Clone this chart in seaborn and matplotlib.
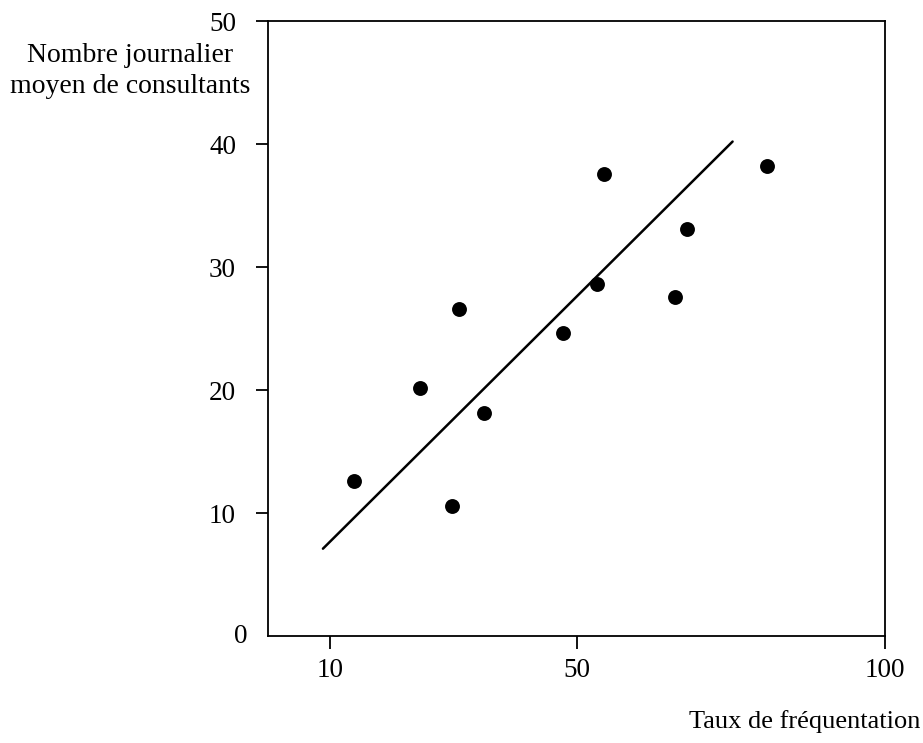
import matplotlib
matplotlib.use("Agg")
import matplotlib.pyplot as plt
import seaborn as sns
import pandas as pd

# Data
taux = [13.9, 24.6, 29.8, 30.9, 35.0, 47.8, 53.4, 54.4, 65.9, 67.9, 80.8]
consultants = [12.6, 20.2, 10.6, 26.6, 18.1, 24.6, 28.6, 37.6, 27.6, 33.1, 38.2]
line_x = [8.9, 75.3]
line_y = [7.1, 40.2]
x_ticks = [10, 50, 100]
y_ticks = [10, 20, 30, 40, 50]

sns.set_theme(style="ticks")
plt.rcParams['font.family'] = ['Liberation Serif', 'DejaVu Serif']
plt.rcParams['text.color'] = 'black'

fig = plt.figure(figsize=(9.23, 7.43), dpi=100)
ax = fig.add_axes([0.2904, 0.144, 0.6684, 0.8277])

df = pd.DataFrame({"x": taux, "y": consultants})
sns.scatterplot(data=df, x="x", y="y", ax=ax, color="black", s=115,
                edgecolor="black", linewidth=0, zorder=3)
sns.lineplot(x=line_x, y=line_y, ax=ax, color="black", linewidth=1.8,
             estimator=None, sort=False)

ax.set_xlim(0, 100)
ax.set_ylim(0, 50)
ax.set_xticks(x_ticks)
ax.set_yticks(y_ticks)
ax.set_xticklabels([str(v) for v in x_ticks])
ax.set_yticklabels([str(v) for v in y_ticks])
ax.tick_params(axis="both", direction="out", length=9, width=1.3,
               labelsize=19.5, colors="black")
ax.tick_params(axis="x", pad=7)
ax.tick_params(axis="y", pad=14)
for s in ax.spines.values():
    s.set_visible(True)
    s.set_color("black")
    s.set_linewidth(1.3)
ax.set_xlabel("")
ax.set_ylabel("")

ax.text(-0.045, 0.0, "0", transform=ax.transAxes, fontsize=19.5,
        ha="center", va="center", color="black")
fig.text(130 / 923, 1 - 71 / 743, "Nombre journalier\nmoyen de consultants",
         ha="center", va="center", fontsize=20, linespacing=1.3, color="black")
fig.text(805 / 923, 1 - 722 / 743, "Taux de fréquentation",
         ha="center", va="center", fontsize=19, color="black")

fig.savefig("out.png", dpi=100, facecolor="white")
